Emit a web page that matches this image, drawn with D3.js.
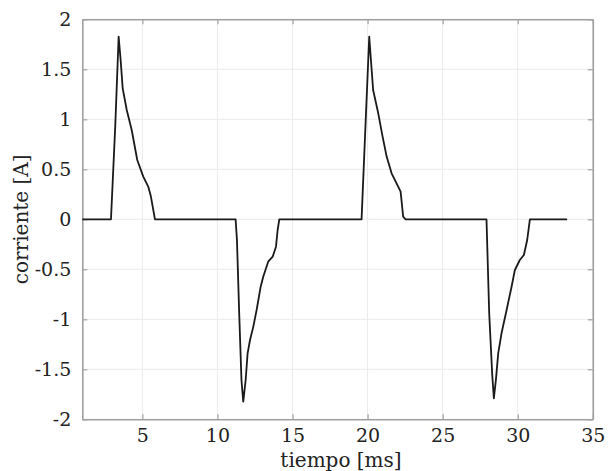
<!DOCTYPE html>
<html>
<head>
<meta charset="utf-8">
<script src="https://cdn.jsdelivr.net/npm/d3@7"></script>
<style>
  body { margin: 0; background: #fff; }
  text { font-family: "DejaVu Serif", serif; fill: #222; }
</style>
</head>
<body>
<svg id="chart" width="611" height="471"></svg>
<script>
var svg = d3.select('#chart');
var plotLeft = 82.3, plotRight = 592.8, plotTop = 19.3, plotBottom = 419.3;

// tiempo [ms] y corriente [A]
var tiempo = [1.0, 2.91, 3.2, 3.42, 3.55, 3.69, 3.96, 4.29, 4.66, 5.06, 5.39, 5.57, 5.84, 7.5, 9.5, 11.21,
  11.3, 11.45, 11.6, 11.72, 11.88, 12.01, 12.17, 12.39, 12.61, 12.88, 13.05, 13.38, 13.68, 13.9, 14.01, 14.12,
  16.0, 18.0, 19.6, 19.85, 20.11, 20.22, 20.37, 20.71, 21.0, 21.27, 21.6, 21.93, 22.2, 22.37, 22.53, 24.5, 26.5, 27.92,
  28.1, 28.3, 28.41, 28.55, 28.7, 28.92, 29.26, 29.59, 29.81, 30.14, 30.41, 30.63, 30.81, 32.0, 33.29];
var corriente = [0, 0, 0.95, 1.826, 1.6, 1.31, 1.093, 0.893, 0.593, 0.427, 0.327, 0.227, 0, 0, 0, 0,
  -0.207, -0.94, -1.607, -1.823, -1.607, -1.34, -1.207, -1.073, -0.907, -0.674, -0.574, -0.424, -0.374, -0.274, -0.107, 0,
  0, 0, 0, 0.9, 1.826, 1.6, 1.293, 1.06, 0.827, 0.627, 0.46, 0.36, 0.276, 0.026, 0, 0, 0, 0,
  -0.94, -1.55, -1.79, -1.6, -1.34, -1.14, -0.907, -0.674, -0.507, -0.407, -0.357, -0.207, 0, 0, 0];

var xTicks = [5, 10, 15, 20, 25, 30, 35];
var yTicks = [-2, -1.5, -1, -0.5, 0, 0.5, 1, 1.5, 2];

var x = d3.scaleLinear().domain([1, 35]).range([plotLeft, plotRight]);
var y = d3.scaleLinear().domain([-2, 2]).range([plotBottom, plotTop]);

// rejilla
svg.append('g').selectAll('line').data(xTicks).enter().append('line')
  .attr('x1', d => x(d)).attr('x2', d => x(d)).attr('y1', plotTop).attr('y2', plotBottom)
  .attr('stroke', '#ebebeb').attr('stroke-width', 1);
svg.append('g').selectAll('line').data(yTicks).enter().append('line')
  .attr('y1', d => y(d)).attr('y2', d => y(d)).attr('x1', plotLeft).attr('x2', plotRight)
  .attr('stroke', '#ebebeb').attr('stroke-width', 1);

// ejes (marcas hacia dentro en los cuatro lados)
var axisColor = '#a0a0a0';
function styleAxis(g) {
  g.select('.domain').attr('stroke', axisColor).attr('stroke-width', 1.6);
  g.selectAll('.tick line').attr('stroke', axisColor).attr('stroke-width', 1.2);
  g.selectAll('.tick text').attr('font-family', '"DejaVu Serif", serif').attr('font-size', 19).attr('fill', '#222');
}
svg.append('g').attr('transform', 'translate(0,' + plotBottom + ')')
  .call(d3.axisBottom(x).tickValues(xTicks).tickSizeInner(-5).tickSizeOuter(0).tickPadding(9).tickFormat(d3.format('d')))
  .call(styleAxis);
svg.append('g').attr('transform', 'translate(0,' + plotTop + ')')
  .call(d3.axisTop(x).tickValues(xTicks).tickSizeInner(-5).tickSizeOuter(0).tickFormat(''))
  .call(styleAxis);
svg.append('g').attr('transform', 'translate(' + plotLeft + ',0)')
  .call(d3.axisLeft(y).tickValues(yTicks).tickSizeInner(-5).tickSizeOuter(0).tickPadding(11).tickFormat(d => String(d)))
  .call(styleAxis);
svg.append('g').attr('transform', 'translate(' + plotRight + ',0)')
  .call(d3.axisRight(y).tickValues(yTicks).tickSizeInner(-5).tickSizeOuter(0).tickFormat(''))
  .call(styleAxis);

// curva
var pts = tiempo.map((t, i) => [t, corriente[i]]);
svg.append('path').datum(pts)
  .attr('fill', 'none').attr('stroke', '#1a1a1a').attr('stroke-width', 1.8).attr('stroke-linejoin', 'round')
  .attr('d', d3.line().x(d => x(d[0])).y(d => y(d[1])));

// titulos de ejes
svg.append('text').attr('x', 341).attr('y', 467).attr('text-anchor', 'middle')
  .attr('font-size', 20).text('tiempo [ms]');
svg.append('text').attr('transform', 'translate(28,' + ((plotTop + plotBottom) / 2) + ') rotate(-90)')
  .attr('text-anchor', 'middle').attr('font-size', 20).text('corriente [A]');
</script>
</body>
</html>
